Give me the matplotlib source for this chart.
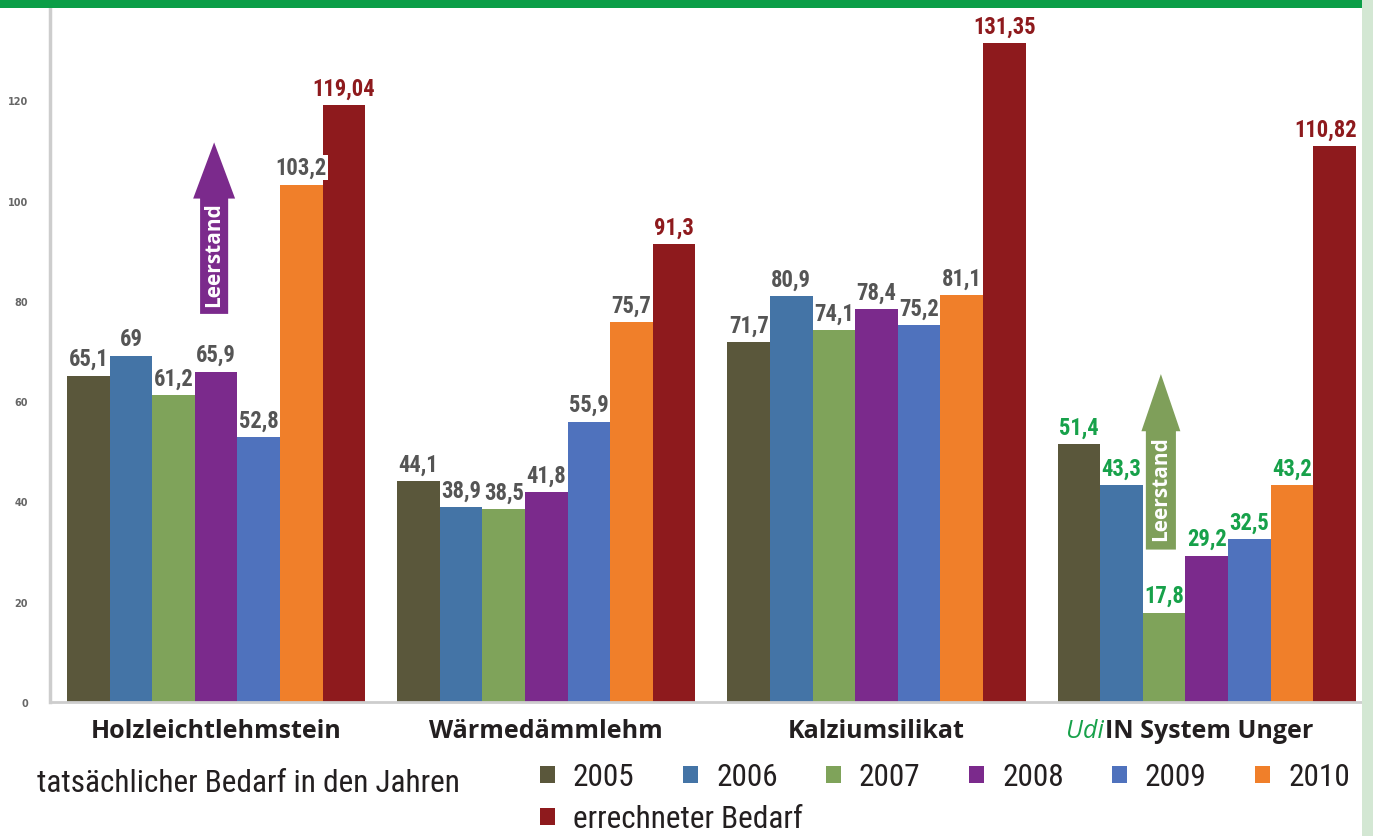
import matplotlib
matplotlib.use("Agg")
import matplotlib.pyplot as plt
import matplotlib.transforms as mtrans
from matplotlib import font_manager as fm
from matplotlib.font_manager import FontProperties
from matplotlib.patches import Rectangle
import numpy as np

# Daten
kategorien = ['Holzleichtlehmstein', 'Wärmedämmlehm', 'Kalziumsilikat', 'UdiIN System Unger']
serien = ['2005', '2006', '2007', '2008', '2009', '2010', 'errechneter Bedarf']
j2005 = [65.1, 44.1, 71.7, 51.4]
j2006 = [69, 38.9, 80.9, 43.3]
j2007 = [61.2, 38.5, 74.1, 17.8]
j2008 = [65.9, 41.8, 78.4, 29.2]
j2009 = [52.8, 55.9, 75.2, 32.5]
j2010 = [103.2, 75.7, 81.1, 43.2]
errechnet = [119.04, 91.3, 131.35, 110.82]
werte = [j2005, j2006, j2007, j2008, j2009, j2010, errechnet]
farben = ['#5a573b', '#4474a6', '#7fa35a', '#7b2a8c', '#4f72bd', '#f07f2a', '#8e1a1d']

# schmale Schrift suchen, sonst Roboto
fp_reg = FontProperties(family='Roboto')
fp_bold = FontProperties(family='Roboto', weight='bold')
for f in fm.fontManager.ttflist:
    n = f.fname.lower()
    if ('condensed' in n or 'narrow' in n) and f.style == 'normal':
        if f.weight in (400, 'normal', 'regular'):
            fp_reg = FontProperties(fname=f.fname)
        elif f.weight in (700, 'bold'):
            fp_bold = FontProperties(fname=f.fname)
fett = 'Open Sans'

W, H = 1373, 837
fig = plt.figure(figsize=(W / 100, H / 100), dpi=100)
ax = fig.add_axes([50 / W, 134 / H, 1312 / W, 702 / H])
renderer = fig.canvas.get_renderer()


def groesse(s, fp, ziel_px):
    # Schriftgroesse, bei der s ziel_px breit wird
    fp = fp.copy()
    fp.set_size(10)
    t = fig.text(0, 0, s, fontproperties=fp)
    w = t.get_window_extent(renderer).width
    t.remove()
    return 10 * ziel_px / w


fp_wert = fp_bold.copy()
fp_wert.set_size(groesse('119,04', fp_bold, 63))
fp_leg = fp_reg.copy()
fp_leg.set_size(groesse('tatsächlicher Bedarf in den Jahren', fp_reg, 420))

x = np.arange(len(kategorien))
b = 0.129
for i, (vals, col) in enumerate(zip(werte, farben)):
    bars = ax.bar(x + (i - 3) * b, vals, b, color=col, label=serien[i], zorder=2)
    txt = [('%g' % v).replace('.', ',') for v in vals]
    labs = ax.bar_label(bars, labels=txt, padding=4, fontproperties=fp_wert,
                        bbox=dict(fc='white', ec='none', pad=1.0), zorder=5)
    for j, t in enumerate(labs):
        if i == 6:
            t.set_color('#8e1a1d')
        elif j == 3:
            t.set_color('#17a14a')
        else:
            t.set_color('#555555')
    if i == 6:
        labs[3].xyann = (-6.5, 4)  # am rechten Rand etwas nach links

ax.set_xlim(-0.503, 3.47)
ax.set_ylim(0, 140)
ax.set_yticks(range(0, 121, 20))
ax.tick_params(axis='y', length=0, pad=16, labelsize=7, labelcolor='#666666')
for t in ax.get_yticklabels():
    t.set_fontweight('bold')
ax.set_xticks([])
for s in ['top', 'right']:
    ax.spines[s].set_visible(False)
ax.spines['left'].set_color('#cdcdcd')
ax.spines['left'].set_linewidth(2.5)
ax.spines['bottom'].set_color('#cdcdcd')
ax.spines['bottom'].set_linewidth(2)

# Kategorien
tr = mtrans.blended_transform_factory(ax.transData, fig.transFigure)
yb = 1 - 738 / H
for j in range(3):
    ax.text(x[j], yb, kategorien[j], transform=tr, ha='center', va='baseline',
            fontsize=18, fontweight='bold', family=fett, color='#231f20')
ax.text(2.691, yb, 'IN System Unger', transform=tr, ha='left', va='baseline',
        fontsize=18, fontweight='bold', family=fett, color='#231f20')
ax.text(2.687, yb, 'Udi', transform=tr, ha='right', va='baseline',
        fontsize=18, style='italic', family=fett, color='#17a14a')

# Leerstand Pfeile
ax.arrow(-0.006, 77.4, 0, 111.6 - 77.4, width=0.085, head_width=0.127, head_length=11.2,
         length_includes_head=True, fc='#7b2a8c', ec='none', zorder=4)
ax.text(-0.006, 89.5, 'Leerstand', rotation=90, ha='center', va='center', color='white',
        fontsize=15, fontweight='bold', family=fett, zorder=6)
ax.arrow(2.861, 30.4, 0, 65.4 - 30.4, width=0.091, head_width=0.118, head_length=11.4,
         length_includes_head=True, fc='#7f9f5a', ec='none', zorder=4)
ax.text(2.861, 42.8, 'Leerstand', rotation=90, ha='center', va='center', color='white',
        fontsize=15, fontweight='bold', family=fett, zorder=6)

# Legende
fig.text(37 / W, 1 - 792 / H, 'tatsächlicher Bedarf in den Jahren', ha='left', va='baseline',
         fontproperties=fp_leg, color='#231f20')
em = fp_leg.get_size_in_points() * 100 / 72
probe = fig.text(0, 0, '2005', fontproperties=fp_leg)
w2005 = probe.get_window_extent(renderer).width
probe.remove()
h, l = ax.get_legend_handles_labels()
leg_kw = dict(loc='center left', frameon=False, prop=fp_leg,
              handlelength=15 / em, handleheight=15 / em, handletextpad=18 / em,
              columnspacing=(143 - 33 - w2005) / em, borderpad=0, borderaxespad=0,
              labelcolor='#231f20')
fig.legend(h[:6], l[:6], ncol=6, bbox_to_anchor=(540 / W, 1 - 778 / H), **leg_kw)
fig.legend(h[6:], l[6:], ncol=1, bbox_to_anchor=(540 / W, 1 - 820 / H), **leg_kw)

# Rahmen
fig.add_artist(Rectangle((0, 1 - 9 / H), 1362 / W, 9 / H, transform=fig.transFigure,
                         fc='#0b9e47', ec='none', zorder=10))
fig.add_artist(Rectangle((1362 / W, 0), 11 / W, 1, transform=fig.transFigure,
                         fc='#d3e7d3', ec='none', zorder=10))

fig.savefig('out.png', dpi=100)
